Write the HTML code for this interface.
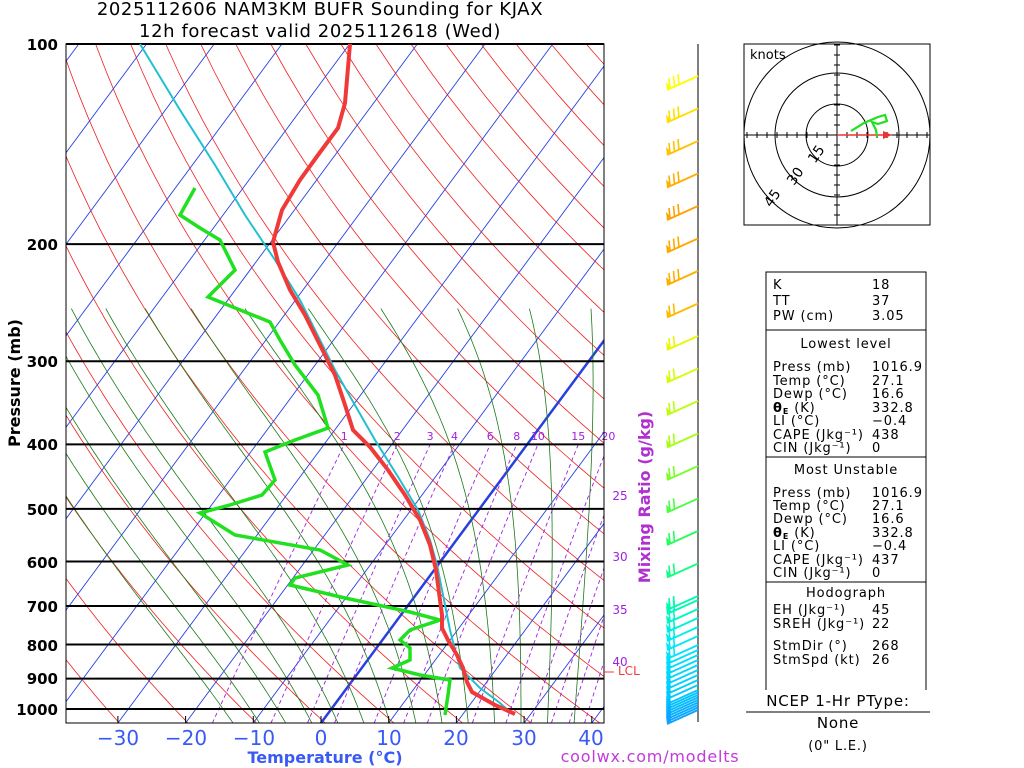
<!DOCTYPE html>
<html><head><meta charset="utf-8"><style>
html,body{margin:0;padding:0;background:#fff;width:1024px;height:768px;overflow:hidden}
svg{display:block}
text{font-family:"DejaVu Sans","Liberation Sans",sans-serif}
.tb text{letter-spacing:0.9px}
</style></head><body>
<svg id="s" width="1024" height="768" viewBox="0 0 1024 768" xmlns="http://www.w3.org/2000/svg">
<defs><clipPath id="c"><rect x="66" y="44" width="538" height="679"/></clipPath></defs>
<g id="bg" clip-path="url(#c)"></g>
<g id="fg"></g>
<text x="320" y="15" font-size="18" text-anchor="middle" fill="#000" style="letter-spacing:0.6px">2025112606 NAM3KM BUFR Sounding for KJAX</text>
<text x="320" y="37" font-size="18" text-anchor="middle" fill="#000" style="letter-spacing:0.6px">12h forecast valid 2025112618 (Wed)</text>
<g font-size="15" fill="#000" text-anchor="end" font-weight="bold">
<text x="58" y="50">100</text><text x="58" y="250">200</text><text x="58" y="367">300</text><text x="58" y="450">400</text><text x="58" y="515">500</text><text x="58" y="568">600</text><text x="58" y="612">700</text><text x="58" y="651">800</text><text x="58" y="684">900</text><text x="58" y="715">1000</text>
</g>
<text transform="translate(20,383) rotate(-90)" font-size="16" font-weight="bold" text-anchor="middle">Pressure (mb)</text>
<g font-size="20" fill="#3a5af5" text-anchor="middle">
<text x="118" y="745">−30</text><text x="186" y="745">−20</text><text x="254" y="745">−10</text><text x="321" y="745">0</text><text x="389" y="745">10</text><text x="456" y="745">20</text><text x="524" y="745">30</text><text x="591" y="745">40</text>
</g>
<text x="325" y="763" font-size="16" font-weight="bold" fill="#3a5af5" text-anchor="middle">Temperature (°C)</text>
<text x="650" y="762" font-size="16" fill="#c23ad8" text-anchor="middle" style="letter-spacing:0.8px">coolwx.com/modelts</text>
<text transform="translate(650,497) rotate(-90)" font-size="16" font-weight="bold" fill="#b030d0" text-anchor="middle">Mixing Ratio (g/kg)</text>
<line x1="698" y1="44" x2="698" y2="722" stroke="#555" stroke-width="1.5"/>
<g id="barbs"></g>
<!-- hodograph -->
<rect x="744" y="44" width="186" height="181" fill="#fff" stroke="#000"/>
<g fill="none" stroke="#000">
<circle cx="837" cy="135" r="31"/><circle cx="837" cy="135" r="62"/><circle cx="837" cy="135" r="93"/>
<line x1="744" y1="135" x2="930" y2="135"/><line x1="837" y1="44" x2="837" y2="225"/>
</g>
<g id="ht"></g>
<text x="750" y="59" font-size="13">knots</text>
<text transform="translate(815,164) rotate(-55)" font-size="14">15</text>
<text transform="translate(794,186) rotate(-55)" font-size="14">30</text>
<text transform="translate(771,208) rotate(-55)" font-size="14">45</text>
<line x1="837" y1="135" x2="888" y2="135" stroke="#f03030" stroke-width="1.5"/>
<polygon points="892,135 883,131 883,139" fill="#f03030"/>
<polyline points="851,131 864,123 878,117 885,115 887,121 878,124 872,122 876,130 877,137" fill="none" stroke="#20e020" stroke-width="2.2"/>
<!-- table -->
<g class="tb" font-size="13" fill="#000">
<rect x="766" y="272" width="160" height="433" fill="none" stroke="#000"/>
<line x1="766" y1="330" x2="926" y2="330" stroke="#000"/>
<line x1="766" y1="457" x2="926" y2="457" stroke="#000"/>
<line x1="766" y1="582" x2="926" y2="582" stroke="#000"/>
<text x="773" y="289">K</text><text x="872" y="289">18</text>
<text x="773" y="305">TT</text><text x="872" y="305">37</text>
<text x="773" y="320">PW (cm)</text><text x="872" y="320">3.05</text>
<text x="846" y="348" text-anchor="middle">Lowest level</text>
<text x="773" y="371">Press (mb)</text><text x="872" y="371">1016.9</text>
<text x="773" y="385">Temp (°C)</text><text x="872" y="385">27.1</text>
<text x="773" y="398">Dewp (°C)</text><text x="872" y="398">16.6</text>
<text x="773" y="412" font-weight="bold">θ<tspan font-size="8" dy="2">E</tspan><tspan dy="-2" font-weight="normal"> (K)</tspan></text><text x="872" y="412">332.8</text>
<text x="773" y="425">LI (°C)</text><text x="872" y="425">−0.4</text>
<text x="773" y="439">CAPE (Jkg⁻¹)</text><text x="872" y="439">438</text>
<text x="773" y="452">CIN (Jkg⁻¹)</text><text x="872" y="452">0</text>
<text x="846" y="474" text-anchor="middle">Most Unstable</text>
<text x="773" y="497">Press (mb)</text><text x="872" y="497">1016.9</text>
<text x="773" y="510">Temp (°C)</text><text x="872" y="510">27.1</text>
<text x="773" y="523">Dewp (°C)</text><text x="872" y="523">16.6</text>
<text x="773" y="537" font-weight="bold">θ<tspan font-size="8" dy="2">E</tspan><tspan dy="-2" font-weight="normal"> (K)</tspan></text><text x="872" y="537">332.8</text>
<text x="773" y="550">LI (°C)</text><text x="872" y="550">−0.4</text>
<text x="773" y="564">CAPE (Jkg⁻¹)</text><text x="872" y="564">437</text>
<text x="773" y="577">CIN (Jkg⁻¹)</text><text x="872" y="577">0</text>
<text x="846" y="597" text-anchor="middle">Hodograph</text>
<text x="773" y="614">EH (Jkg⁻¹)</text><text x="872" y="614">45</text>
<text x="773" y="628">SREH (Jkg⁻¹)</text><text x="872" y="628">22</text>
<text x="773" y="650">StmDir (°)</text><text x="872" y="650">268</text>
<text x="773" y="664">StmSpd (kt)</text><text x="872" y="664">26</text>
</g>
<g font-size="15" fill="#000" style="letter-spacing:0.8px">
<rect x="740" y="690" width="195" height="20" fill="#fff"/>
<text x="838" y="706" text-anchor="middle">NCEP 1-Hr PType:</text>
<line x1="746" y1="712" x2="930" y2="712" stroke="#000"/>
<text x="838" y="728" text-anchor="middle">None</text>
<text x="838" y="750" text-anchor="middle" font-size="13">(0" L.E.)</text>
</g>
</svg>
<script>
var NS="http://www.w3.org/2000/svg";
function el(p,t,a){var e=document.createElementNS(NS,t);for(var k in a)e.setAttribute(k,a[k]);p.appendChild(e);return e;}
function Y(p){return 44+Math.log10(p/100)*665;}
function X(T,y){return 321+T*6.77+(723-y)*0.74;}
var bg=document.getElementById('bg'),fg=document.getElementById('fg');
function line(g,pts,st,w,dash){var d=pts.map(function(q,i){return (i?'L':'M')+q[0].toFixed(1)+','+q[1].toFixed(1)}).join('');var a={d:d,fill:'none',stroke:st,'stroke-width':w};if(dash)a['stroke-dasharray']=dash;el(g,'path',a);}
for(var th=200;th<=480;th+=10){var pts=[];for(var p=1050;p>=100;p-=10){var T=th*Math.pow(p/1000,0.286)-273.15;var y=Y(p);pts.push([X(T,y),y]);}line(bg,pts,'#f02020',0.8);}
for(var T=-120;T<=50;T+=10){var y1=723,y2=44;line(bg,[[X(T,y1),y1],[X(T,y2),y2]],'#2840e0',T==0?2.5:0.9);}
function es(T){return 6.112*Math.exp(17.67*T/(T+243.5));}
function gm(T,p){var Tk=T+273.15,e=es(T),r=0.622*e/(p-e),L=2.5e6,Rd=287,cp=1004;var num=Rd*Tk+L*r,den=cp+L*L*r*0.622/(Rd*Tk*Tk);return num/den/p;}
for(var tw=-16;tw<=36;tw+=4){var pts=[];var Td=tw;for(var q=1000;q<1050;q+=5){Td+=gm(Td,q)*5;}
var T=Td;for(var p=1050;p>=250;p-=5){var y=Y(p);pts.push([X(T,y),y]);T-=gm(T,p)*5;}
line(bg,pts,'#1a7a1a',0.8);}
var mrs=[1,2,3,4,6,8,10,15,20,25,30,35,40];
mrs.forEach(function(w){var off=3+0.45*Math.min(w,20);var pts=[];for(var p=1050;p>=400;p-=10){var e=w*p/(622+w),l=Math.log(e/6.112),T=243.5*l/(17.67-l);var y=Y(p);pts.push([X(T,y)+off,y]);}line(bg,pts,'#a020e0',0.9,'4,3');
var e=w*400/(622+w),l=Math.log(e/6.112),T=243.5*l/(17.67-l),x=X(T,Y(400))+off;
if(x<612){var t=el(fg,'text',{x:x,y:440,'font-size':11,fill:'#a020e0','text-anchor':'middle'});t.textContent=w;}});
[[25,500],[30,561],[35,614],[40,666]].forEach(function(a){var t=el(fg,'text',{x:620,y:a[1],'font-size':12,fill:'#a020e0','text-anchor':'middle'});t.textContent=a[0];});
[100,200,300,400,500,600,700,800,900,1000].forEach(function(p){var y=Y(p);el(fg,'line',{x1:66,y1:y,x2:604,y2:y,stroke:'#000','stroke-width':2});});
el(fg,'rect',{x:66,y:44,width:538,height:679,fill:'none',stroke:'#000','stroke-width':1});
for(var T=-30;T<=40;T+=10){var x=321+T*6.77;el(fg,'line',{x1:x,y1:723,x2:x,y2:716,stroke:'#000'});}
line(fg,[[140,44],[180,110],[215,165],[245,215],[275,260],[300,300],[320,340],[335,370],[352,400],[375,440],[400,480],[418,510],[430,540],[437,565],[444,600],[450,630],[455,650],[460,668],[480,688],[500,703],[510,712]],'#20c0d0',2);
line(fg,[[195,188],[180,215],[200,228],[220,240],[235,270],[208,297],[270,322],[280,340],[295,365],[318,395],[328,428],[295,440],[265,452],[275,480],[262,495],[230,505],[200,513],[235,535],[320,550],[348,565],[295,578],[290,585],[345,598],[410,612],[440,620],[410,630],[400,640],[410,648],[410,660],[392,668],[420,675],[450,680],[448,695],[445,715]],'#20e020',3.5);
line(fg,[[350,44],[345,103],[338,128],[318,155],[300,180],[282,210],[273,242],[278,262],[290,290],[305,315],[320,345],[335,375],[345,405],[353,430],[370,447],[388,470],[405,495],[420,520],[430,545],[436,570],[440,600],[442,615],[442,628],[448,640],[457,655],[463,668],[467,682],[472,692],[495,705],[515,714]],'#f03a3a',4);
el(fg,'line',{x1:604,y1:672,x2:614,y2:672,stroke:'#f03a3a'});
var t=el(fg,'text',{x:618,y:675,'font-size':12,fill:'#f03a3a'});t.textContent='LCL';
// hodograph ticks
var ht=document.getElementById('ht');
for(var d=-90;d<=90;d+=10){if(d==0)continue;el(ht,'line',{x1:837+d,y1:132,x2:837+d,y2:138,stroke:'#000'});el(ht,'line',{x1:834,y1:135+d,x2:840,y2:135+d,stroke:'#000'});}
// barbs
var bb=document.getElementById('barbs');
function col(y){var stops=[[75,[255,255,0]],[130,[255,200,0]],[200,[255,160,0]],[300,[255,180,0]],[340,[230,255,0]],[440,[160,255,20]],[520,[40,255,80]],[590,[0,255,160]],[640,[0,230,255]],[690,[0,200,255]],[722,[20,140,255]]];
if(y<=stops[0][0])return 'rgb(255,255,0)';for(var i=1;i<stops.length;i++){if(y<=stops[i][0]){var a=stops[i-1],b=stops[i],f=(y-a[0])/(b[0]-a[0]);return 'rgb('+[0,1,2].map(function(k){return Math.round(a[1][k]+(b[1][k]-a[1][k])*f)}).join(',')+')';}}return 'rgb(20,140,255)';}
var ys=[];for(var y=76;y<600;y+=32.5)ys.push(y);for(var y=600;y<650;y+=9)ys.push(y);for(var y=650;y<690;y+=5)ys.push(y);for(var y=690;y<712;y+=2.5)ys.push(y);
ys.forEach(function(y){var c=col(y);var x0=698,x1=667,y1=y+14;el(bb,'line',{x1:x0,y1:y,x2:x1,y2:y1,stroke:c,'stroke-width':1.8});
var n=y<300?3:(y<600?2:(y<650?2:1));
for(var i=0;i<n;i++){var bx=x1+3+i*4.5,by=y1-i*2-1;el(bb,'line',{x1:bx,y1:by,x2:bx-1,y2:by-11,stroke:c,'stroke-width':1.6});}
el(bb,'polygon',{points:x1+','+y1+' '+(x1+5)+','+(y1-2)+' '+(x1-1)+','+(y1-8),fill:c});});
</script>
</body></html>
